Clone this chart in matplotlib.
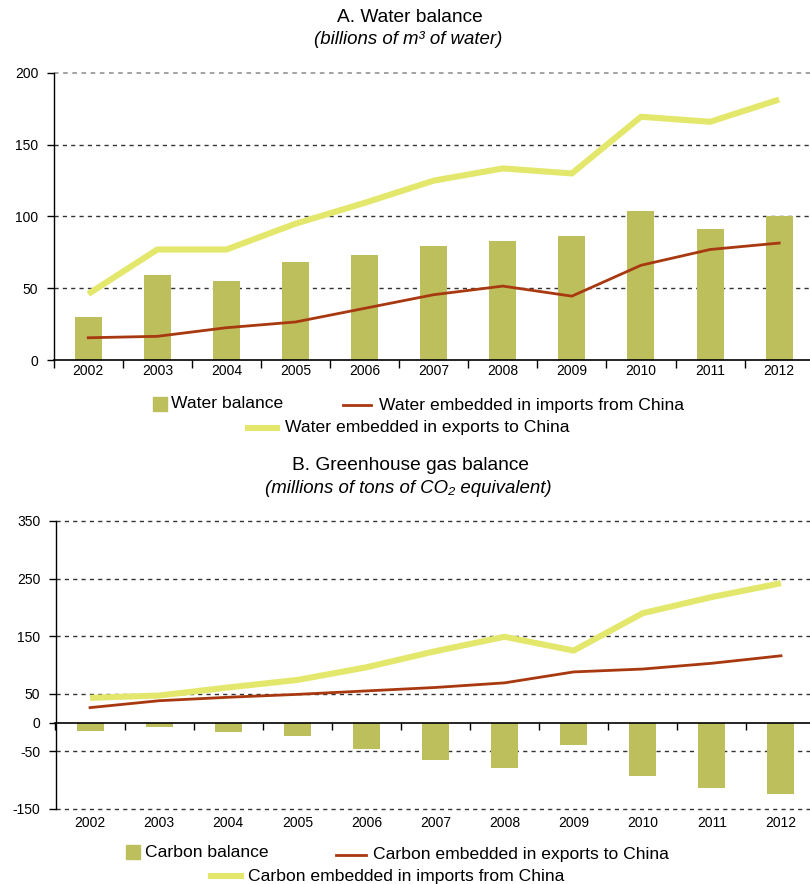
import matplotlib
matplotlib.use("Agg")
import matplotlib.pyplot as plt
from matplotlib.lines import Line2D
from matplotlib.patches import Rectangle
import numpy as np

plt.rcParams['font.family'] = ['Liberation Sans', 'DejaVu Sans']

years = [2002, 2003, 2004, 2005, 2006, 2007, 2008, 2009, 2010, 2011, 2012]

# Panel A: water (billions of m3)
water_balance = [30, 59, 55, 68.5, 73.5, 79.5, 83, 86.5, 103.5, 91.5, 100]
water_imports_from_china = [15.5, 16.5, 22.5, 26.5, 36, 45.5, 51.5, 44.5, 66, 77, 81.5]
water_exports_to_china = [46, 77, 77, 95, 109.5, 125, 133.5, 130, 169.5, 166, 181.5]

# Panel B: greenhouse gases (millions of tons CO2 eq.)
carbon_balance = [-15, -8, -17, -24, -46, -65, -79, -39, -93, -114, -124]
carbon_exports_to_china = [26, 38, 44, 49, 55, 61, 69, 88, 93, 103, 116]
carbon_imports_from_china = [43, 47, 61, 74, 96, 124, 149, 125, 190, 218, 242]

water_ticks = [0, 50, 100, 150, 200]
carbon_ticks = [-150, -50, 0, 50, 150, 250, 350]

BAR = "#BDBF5C"
RED = "#A8380F"
YEL = "#E3E86C"
GRID = "#333333"

TITLE_FS = 13.8
SUB_FS = 13.4
LEG_FS = 12.6
TICK_FS = 10
YEL_LW = 4.4
RED_LW = 2.0

W, H = 810, 884
fig = plt.figure(figsize=(W / 100, H / 100), dpi=100)


def fx(px):
    return px / W


def fy(py):
    return 1 - py / H


x = np.arange(len(years))
n = len(years)

# ---------- Panel A ----------
axA = fig.add_axes([fx(53.7), fy(360), 760 / W, 287 / H])
axA.bar(x, water_balance, width=0.39, color=BAR, zorder=2)
axA.plot(x, water_exports_to_china, color=YEL, lw=YEL_LW, zorder=3, solid_capstyle='butt')
axA.plot(x, water_imports_from_china, color=RED, lw=RED_LW, zorder=4)
axA.set_xlim(-0.5, n - 0.5)
axA.set_ylim(0, 200)
axA.set_yticks(water_ticks)
axA.set_yticklabels([str(t) for t in water_ticks])
for t in water_ticks[1:]:
    axA.axhline(t, color="#8A8A8A" if t == 200 else GRID, lw=1.1 if t == 200 else 1.0,
                ls=(0, (3, 3)), zorder=1, clip_on=False)
axA.set_xticks(x)
axA.set_xticklabels([str(y) for y in years])
axA.set_xticks(np.arange(-0.5, n, 1.0), minor=True)
axA.tick_params(axis='x', which='major', length=0, pad=3, labelsize=TICK_FS)
axA.tick_params(axis='x', which='minor', length=6, width=1, direction='out')
axA.tick_params(axis='y', length=5, width=1, pad=6, labelsize=TICK_FS)
for s in ['top', 'right']:
    axA.spines[s].set_visible(False)
axA.spines['left'].set_linewidth(1)
axA.spines['bottom'].set_linewidth(1.2)

fig.text(fx(410), fy(17), "A. Water balance", ha='center', va='center', fontsize=TITLE_FS)
fig.text(fx(408), fy(39), "(billions of m³ of water)", ha='center', va='center',
         fontsize=SUB_FS, style='italic')

# Panel A legend
fig.add_artist(Rectangle((fx(153.3), fy(411)), 14 / W, 14 / H, color=BAR,
                         transform=fig.transFigure))
fig.text(fx(171), fy(404), "Water balance", ha='left', va='center', fontsize=LEG_FS)
fig.add_artist(Line2D([fx(343), fx(371)], [fy(405.5), fy(405.5)], color=RED, lw=RED_LW,
                      transform=fig.transFigure))
fig.text(fx(379), fy(405.5), "Water embedded in imports from China", ha='left',
         va='center', fontsize=LEG_FS)
fig.add_artist(Line2D([fx(248), fx(277)], [fy(428), fy(428)], color=YEL, lw=YEL_LW,
                      transform=fig.transFigure))
fig.text(fx(285), fy(427.5), "Water embedded in exports to China", ha='left',
         va='center', fontsize=LEG_FS)

# ---------- Panel B ----------
axB = fig.add_axes([fx(55.5), fy(809), 760 / W, 288 / H])
axB.bar(x, carbon_balance, width=0.39, color=BAR, zorder=2)
axB.plot(x, carbon_imports_from_china, color=YEL, lw=YEL_LW, zorder=3, solid_capstyle='butt')
axB.plot(x, carbon_exports_to_china, color=RED, lw=RED_LW, zorder=4)
axB.set_xlim(-0.5, n - 0.5)
axB.set_ylim(-150, 350)
axB.set_yticks(carbon_ticks)
axB.set_yticklabels([str(t) for t in carbon_ticks])
for t in carbon_ticks:
    if t != 0:
        axB.axhline(t, color=GRID, lw=1.0, ls=(0, (3, 3)), zorder=1, clip_on=False)
axB.spines['bottom'].set_position(('data', 0))
axB.spines['bottom'].set_linewidth(1.2)
axB.spines['bottom'].set_zorder(5)
axB.set_xticks(x)
axB.set_xticklabels([str(y) for y in years])
axB.set_xticks(np.arange(-0.5, n, 1.0), minor=True)
axB.tick_params(axis='x', which='major', length=0, pad=67, labelsize=TICK_FS)
axB.tick_params(axis='x', which='minor', length=5, width=1, direction='out')
axB.tick_params(axis='y', length=5, width=1, pad=6, labelsize=TICK_FS)
for s in ['top', 'right']:
    axB.spines[s].set_visible(False)
axB.spines['left'].set_linewidth(1)

fig.text(fx(410), fy(466), "B. Greenhouse gas balance", ha='center', va='center',
         fontsize=TITLE_FS)
fig.text(fx(408), fy(488), "(millions of tons of CO₂ equivalent)", ha='center',
         va='center', fontsize=SUB_FS, style='italic')

# Panel B legend
fig.add_artist(Rectangle((fx(126), fy(859)), 14 / W, 14 / H, color=BAR,
                         transform=fig.transFigure))
fig.text(fx(145), fy(852.5), "Carbon balance", ha='left', va='center', fontsize=LEG_FS)
fig.add_artist(Line2D([fx(336), fx(366)], [fy(855), fy(855)], color=RED, lw=RED_LW,
                      transform=fig.transFigure))
fig.text(fx(373), fy(855), "Carbon embedded in exports to China", ha='left',
         va='center', fontsize=LEG_FS)
fig.add_artist(Line2D([fx(211), fx(241)], [fy(876), fy(876)], color=YEL, lw=YEL_LW,
                      transform=fig.transFigure))
fig.text(fx(248), fy(876), "Carbon embedded in imports from China", ha='left',
         va='center', fontsize=LEG_FS)

fig.savefig("out.png", dpi=100)
